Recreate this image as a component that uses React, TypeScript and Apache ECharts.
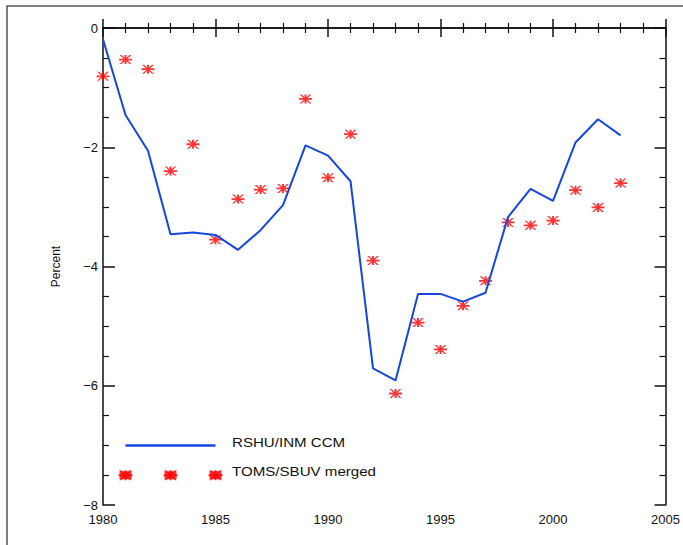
import React, { useEffect, useRef } from "react";
import * as echarts from "echarts";

const years = [1980, 1981, 1982, 1983, 1984, 1985, 1986, 1987, 1988, 1989, 1990, 1991,
  1992, 1993, 1994, 1995, 1996, 1997, 1998, 1999, 2000, 2001, 2002, 2003];
const modelValues = [-0.19, -1.46, -2.06, -3.46, -3.43, -3.47, -3.72, -3.39, -2.97, -1.97, -2.14, -2.57,
  -5.71, -5.91, -4.46, -4.46, -4.59, -4.44, -3.17, -2.70, -2.90, -1.92, -1.53, -1.80];
const obsValues = [-0.81, -0.53, -0.69, -2.40, -1.95, -3.55, -2.87, -2.71, -2.69, -1.19, -2.51, -1.78,
  -3.90, -6.13, -4.94, -5.39, -4.66, -4.24, -3.26, -3.31, -3.23, -2.72, -3.01, -2.60];
const modelName = "RSHU/INM CCM";
const obsName = "TOMS/SBUV merged";
const legendLineX = [1981, 1985];
const legendLineY = -7;
const legendStarX = [1981, 1983, 1985];
const legendStarY = -7.5;

const STAR =
  "path://M0 3.6 H12 V5.4 H0 Z M5.1 0 H6.9 V9 H5.1 Z M0.5 0 L2.3 0 L11.5 9 L9.7 9 Z M9.7 0 L11.5 0 L2.3 9 L0.5 9 Z";

export default function App() {
  const ref = useRef<HTMLDivElement>(null);
  useEffect(() => {
    if (!ref.current) return;
    const chart = echarts.init(ref.current, null, { renderer: "svg" });
    const font = "'Liberation Sans', Arial, sans-serif";
    const axisCommon = {
      type: "value" as const,
      axisLine: { show: true, lineStyle: { color: "#111", width: 1.5 } },
      splitLine: { show: false },
    };
    chart.setOption({
      animation: false,
      backgroundColor: "#fff",
      grid: { left: 103, right: 17, top: 28, bottom: 40 },
      xAxis: [
        {
          ...axisCommon,
          position: "bottom",
          min: 1980, max: 2005, interval: 5,
          axisTick: { inside: true, length: 9, lineStyle: { color: "#111", width: 1.5 } },
          minorTick: { show: true, splitNumber: 5, length: 5, lineStyle: { color: "#111", width: 1.2 } },
          axisLabel: { color: "#111", fontSize: 13, fontFamily: font, margin: 8, formatter: (v: number) => String(v) },
        },
        {
          ...axisCommon,
          position: "top",
          min: 1980, max: 2005, interval: 5,
          axisTick: { inside: true, length: 9, lineStyle: { color: "#111", width: 1.5 } },
          minorTick: { show: true, splitNumber: 5, length: 5, lineStyle: { color: "#111", width: 1.2 } },
          axisLabel: { show: false },
        },
      ],
      yAxis: [
        {
          ...axisCommon,
          position: "left",
          min: -8, max: 0, interval: 2,
          name: "Percent",
          nameLocation: "middle",
          nameGap: 41,
          nameTextStyle: { color: "#111", fontSize: 12, fontFamily: font },
          axisTick: { inside: true, length: 12, lineStyle: { color: "#111", width: 1.5 } },
          minorTick: { show: true, splitNumber: 4, length: 6, lineStyle: { color: "#111", width: 1.2 } },
          axisLabel: {
            color: "#111", fontSize: 13, fontFamily: font, margin: 5,
            formatter: (v: number) => (v < 0 ? "\u2212" + Math.abs(v) : String(v)),
          },
        },
        {
          ...axisCommon,
          position: "right",
          min: -8, max: 0, interval: 2,
          axisTick: { inside: true, length: 11, lineStyle: { color: "#111", width: 1.5 } },
          minorTick: { show: true, splitNumber: 4, length: 6, lineStyle: { color: "#111", width: 1.2 } },
          axisLabel: { show: false },
        },
      ],
      series: [
        {
          name: modelName,
          type: "line",
          data: years.map((y, i) => [y, modelValues[i]]),
          showSymbol: false,
          lineStyle: { color: "#1447e0", width: 2 },
          clip: false,
        },
        {
          name: obsName,
          type: "scatter",
          data: years.map((y, i) => [y, obsValues[i]]),
          symbol: STAR,
          symbolSize: [13, 9],
          itemStyle: { color: "#ff0000" },
          clip: false,
        },
        {
          name: modelName + " legend",
          type: "line",
          data: legendLineX.map((x) => [x, legendLineY]),
          showSymbol: false,
          lineStyle: { color: "#1447e0", width: 2.5 },
        },
        {
          name: obsName + " legend",
          type: "scatter",
          data: legendStarX.map((x) => [x, legendStarY]),
          symbol: "rect",
          symbolSize: [12, 8],
          itemStyle: { color: "#ff0000" },
        },
        {
          name: obsName + " legend2",
          type: "scatter",
          data: legendStarX.map((x) => [x, legendStarY]),
          symbol: STAR,
          symbolSize: [14, 10],
          itemStyle: { color: "#ff0000" },
        },
      ],
      graphic: [
        {
          type: "rect",
          shape: { x: 7, y: 6, width: 720, height: 600 },
          style: { fill: "none", stroke: "#555", lineWidth: 1.5 },
          silent: true,
        },
        {
          type: "text",
          x: 232, y: 443, scaleX: 1.26,
          style: { text: modelName, fill: "#111", fontSize: 12, fontFamily: font, verticalAlign: "middle" },
        },
        {
          type: "text",
          x: 232, y: 472, scaleX: 1.26,
          style: { text: obsName, fill: "#111", fontSize: 12, fontFamily: font, verticalAlign: "middle" },
        },
      ],
    });
    return () => chart.dispose();
  }, []);
  return (
    <div
      ref={ref}
      style={{ position: "fixed", left: 0, top: 0, width: 683, height: 545, background: "#fff" }}
    />
  );
}
